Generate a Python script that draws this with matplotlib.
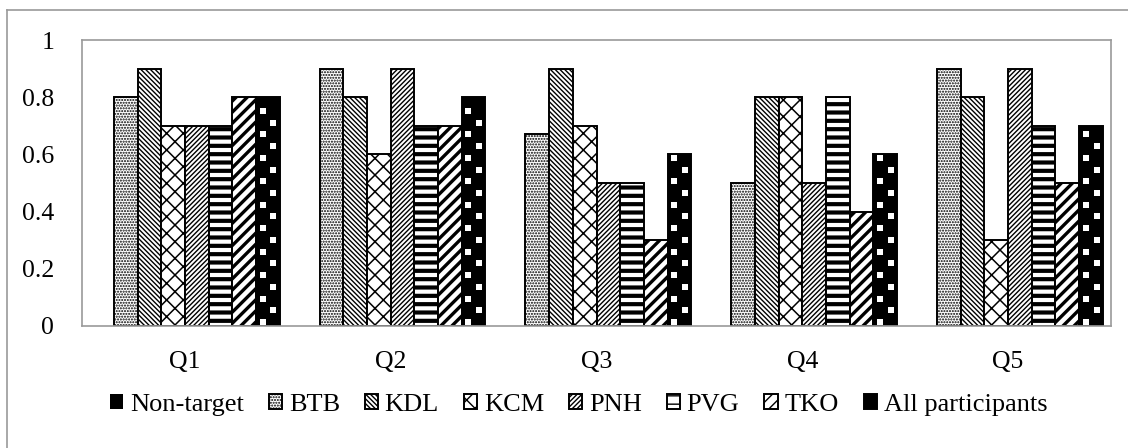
import numpy as np
import matplotlib
matplotlib.use("Agg")
import matplotlib.pyplot as plt
from matplotlib.lines import Line2D

plt.rcParams['font.family'] = ['Liberation Serif', 'DejaVu Serif']

questions = ['Q1', 'Q2', 'Q3', 'Q4', 'Q5']
groups = ['Non-target', 'BTB', 'KDL', 'KCM', 'PNH', 'PVG', 'TKO', 'All participants']

non_target = [0, 0, 0, 0, 0]
btb = [0.8, 0.9, 0.67, 0.5, 0.9]
kdl = [0.9, 0.8, 0.9, 0.8, 0.8]
kcm = [0.7, 0.6, 0.7, 0.8, 0.3]
pnh = [0.7, 0.9, 0.5, 0.5, 0.9]
pvg = [0.7, 0.7, 0.5, 0.8, 0.7]
tko = [0.8, 0.7, 0.3, 0.4, 0.5]
all_participants = [0.8, 0.8, 0.6, 0.6, 0.7]

series = [non_target, btb, kdl, kcm, pnh, pvg, tko, all_participants]

# per-series styling: (facecolor, hatch, hatch linewidth, edge linewidth)
styles = [
    ('black', None, 1.0, 0.0),
    ('white', '.' * 6, 1.0, 1.4),
    ('white', '\\' * 7, 1.0, 1.4),
    ('white', 'xx', 1.1, 1.4),
    ('white', '/' * 7, 1.0, 1.4),
    ('white', '--', 3.0, 1.4),
    ('white', '///', 2.4, 1.4),
    ('black', None, 1.0, 1.4),
]

W, H = 1128, 448
fig = plt.figure(figsize=(W / 100, H / 100), dpi=100)
ax = fig.add_axes([82 / W, 1 - 326 / H, (1111 - 82) / W, (326 - 40) / H])

x = np.arange(len(questions))
n = len(series)
width = 0.92 / n

containers = []
for i, (vals, (fc, hatch, hlw, elw)) in enumerate(zip(series, styles)):
    with plt.rc_context({'hatch.linewidth': hlw, 'hatch.color': 'black'}):
        bc = ax.bar(x + (i - (n - 1) / 2) * width, vals, width,
                    color=fc, edgecolor='black', hatch=hatch,
                    linewidth=elw, label=groups[i], zorder=2)
        for p in bc.patches:
            if hasattr(p, 'set_hatch_linewidth'):
                p.set_hatch_linewidth(hlw)
    containers.append(bc)

# white square dots on the "All participants" bars
step = 0.041
for rect in containers[-1].patches:
    x0, w, h = rect.get_x(), rect.get_width(), rect.get_height()
    xs, ys = [], []
    k = 0
    while 0.014 + k * step < h - 0.01:
        xs.append(x0 + w * (0.28 if k % 2 == 0 else 0.74))
        ys.append(0.014 + k * step)
        k += 1
    sc = ax.scatter(xs, ys, marker='s', s=19, c='white', linewidths=0, zorder=3)
    sc.set_clip_path(rect)

ax.set_xlim(-0.5, len(questions) - 0.5)
ax.set_ylim(0, 1.0)
ax.set_yticks([0, 0.2, 0.4, 0.6, 0.8, 1.0])
ax.set_yticklabels(['0', '0.2', '0.4', '0.6', '0.8', '1'])
ax.set_xticks(x)
ax.set_xticklabels(questions)
ax.tick_params(axis='both', length=0, labelsize=18.5)
ax.tick_params(axis='y', pad=20)
ax.tick_params(axis='x', pad=18)
for s in ax.spines.values():
    s.set_color('#9a9a9a')
    s.set_linewidth(1.2)

leg = fig.legend(containers, groups, loc='center', bbox_to_anchor=(0.513, 1 - 405 / H),
                 ncol=8, frameon=False, fontsize=19, handlelength=0.5, handleheight=0.5,
                 handletextpad=0.25, columnspacing=0.95, borderaxespad=0)

# outer chart border
fig.add_artist(Line2D([7 / W, 7 / W], [0, 1 - 10 / H], transform=fig.transFigure,
                      color='#9a9a9a', linewidth=1.2))
fig.add_artist(Line2D([7 / W, 1], [1 - 10 / H, 1 - 10 / H], transform=fig.transFigure,
                      color='#9a9a9a', linewidth=1.2))

fig.savefig('out.png', dpi=100)
